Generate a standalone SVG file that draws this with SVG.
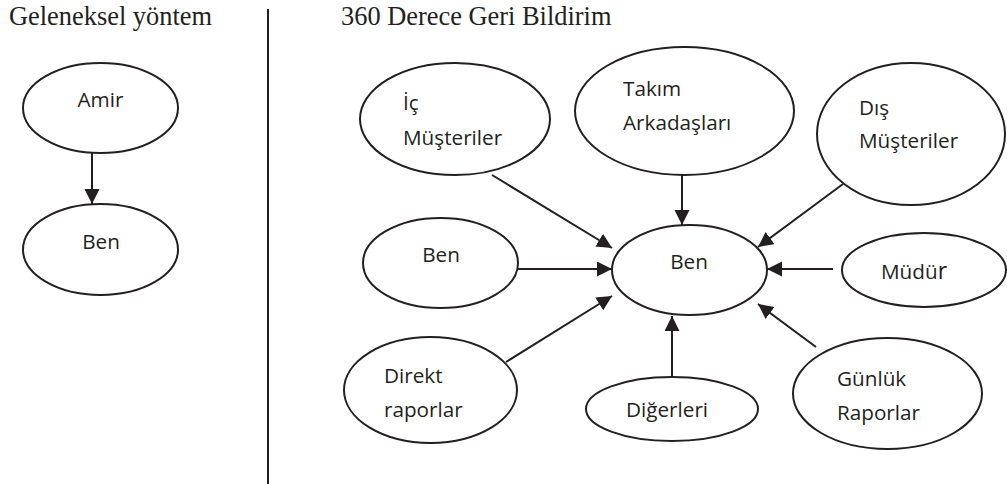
<svg xmlns="http://www.w3.org/2000/svg" width="1007" height="484" viewBox="0 0 1007 484">
<style>
.title{font-family:"Liberation Serif","Times New Roman",serif;font-size:26.4px;fill:#231f20}
.lbl{font-family:"Open Sans","Noto Sans",sans-serif;font-size:20.7px;fill:#231f20}
.mid{text-anchor:middle}
.node ellipse{fill:#fff;stroke:#231f20;stroke-width:2}
.conn line{stroke:#231f20;stroke-width:2;marker-end:url(#ah)}
</style>
<defs>
<marker id="ah" markerUnits="userSpaceOnUse" markerWidth="16" markerHeight="16" refX="15" refY="7.5" orient="auto">
<path d="M0,0 L15,7.5 L0,15 z" fill="#231f20"/>
</marker>
</defs>
<rect width="1007" height="484" fill="#fff"/>
<text class="title" x="9" y="25">Geleneksel yöntem</text>
<text class="title" x="341" y="25">360 Derece Geri Bildirim</text>
<line x1="268" y1="9" x2="268" y2="484" stroke="#231f20" stroke-width="2"/>

<g id="amir" class="node"><ellipse cx="100.5" cy="108" rx="77.5" ry="45"/><text class="lbl mid" x="100.5" y="107">Amir</text></g>
<g id="ben-left" class="node"><ellipse cx="100.5" cy="249.5" rx="77.5" ry="45.5"/><text class="lbl mid" x="101" y="249">Ben</text></g>

<g id="ic-musteriler" class="node"><ellipse cx="455" cy="119" rx="95" ry="56"/><text class="lbl" x="403" y="110">İç</text><text class="lbl" x="403" y="145">Müşteriler</text></g>
<g id="takim" class="node"><ellipse cx="684.5" cy="111" rx="109.5" ry="64"/><text class="lbl" x="623" y="96">Takım</text><text class="lbl" x="623" y="130">Arkadaşları</text></g>
<g id="dis-musteriler" class="node"><ellipse cx="911" cy="134" rx="94" ry="71"/><text class="lbl" x="859" y="115">Dış</text><text class="lbl" x="859" y="148">Müşteriler</text></g>
<g id="ben-self" class="node"><ellipse cx="440.5" cy="263" rx="77.5" ry="45"/><text class="lbl mid" x="441" y="262">Ben</text></g>
<g id="ben-center" class="node"><ellipse cx="689.5" cy="270" rx="77.5" ry="45"/><text class="lbl mid" x="689" y="269">Ben</text></g>
<g id="mudur" class="node"><ellipse cx="924" cy="270" rx="82" ry="37"/><text class="lbl" x="881" y="279">Müdü<tspan style="font-size:23px">r</tspan></text></g>
<g id="direkt" class="node"><ellipse cx="430.5" cy="390" rx="86.5" ry="53"/><text class="lbl" x="384" y="383">Direkt</text><text class="lbl" x="384" y="417">raporlar</text></g>
<g id="digerleri" class="node"><ellipse cx="672" cy="409" rx="86" ry="32"/><text class="lbl" x="626" y="417">Diğerleri</text></g>
<g id="gunluk" class="node"><ellipse cx="887.5" cy="393.5" rx="94.5" ry="55.5"/><text class="lbl" x="837" y="386">Günlük</text><text class="lbl" x="837" y="420">Raporlar</text></g>

<g id="connectors" class="conn">
<line x1="92" y1="153" x2="92" y2="204"/>
<line x1="492" y1="175" x2="612" y2="248"/>
<line x1="682" y1="175" x2="682" y2="225"/>
<line x1="843" y1="184" x2="758" y2="247"/>
<line x1="518" y1="269" x2="612" y2="269"/>
<line x1="833" y1="269" x2="767" y2="269"/>
<line x1="506" y1="362" x2="612" y2="296"/>
<line x1="672" y1="377" x2="672" y2="316"/>
<line x1="816" y1="347" x2="758" y2="304"/>
</g>
</svg>
